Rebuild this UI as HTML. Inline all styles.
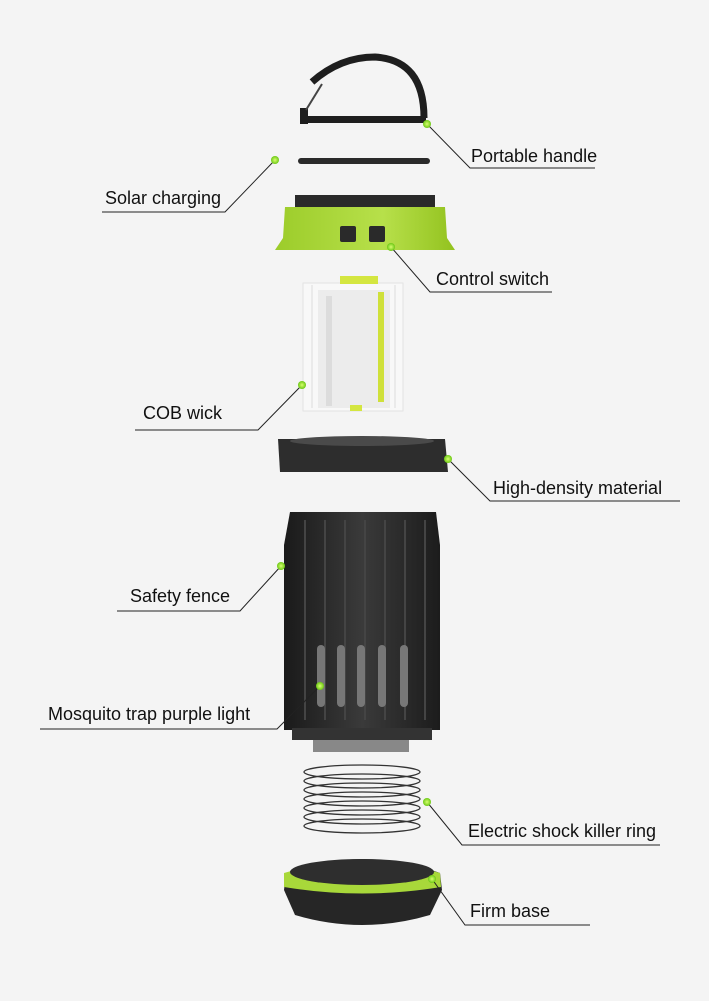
<!DOCTYPE html>
<html><head><meta charset="utf-8"><style>
html,body{margin:0;padding:0;background:#f4f4f4;}
svg{display:block}
text{font-family:"Liberation Sans",sans-serif;font-size:18px;fill:#111}
</style></head><body>
<svg width="709" height="1001" viewBox="0 0 709 1001">
<defs>
<linearGradient id="blk" x1="0" x2="1"><stop offset="0" stop-color="#1a1a1a"/><stop offset="0.5" stop-color="#3a3a3a"/><stop offset="1" stop-color="#1c1c1c"/></linearGradient>
<linearGradient id="grn" x1="0" x2="1"><stop offset="0" stop-color="#9ccc2a"/><stop offset="0.6" stop-color="#b7e04a"/><stop offset="1" stop-color="#93c21f"/></linearGradient>
<radialGradient id="dot"><stop offset="0" stop-color="#d8ff70"/><stop offset="1" stop-color="#6cc814"/></radialGradient>
</defs>
<rect width="709" height="1001" fill="#f4f4f4"/>
<!-- handle -->
<path d="M312 82 Q340 57 375 57 Q424 60 424 118" fill="none" stroke="#1e1e1e" stroke-width="7"/>
<rect x="300" y="116" width="126" height="7" fill="#1e1e1e"/>
<rect x="300" y="108" width="8" height="16" fill="#1e1e1e"/>
<line x1="306" y1="110" x2="322" y2="84" stroke="#444" stroke-width="2"/>
<!-- solar panel -->
<rect x="298" y="158" width="132" height="6" rx="3" fill="#2a2a2a"/>
<!-- top green cap -->
<rect x="295" y="195" width="140" height="14" fill="#2a2a2a"/>
<path d="M285 207 L445 207 L447 238 L455 250 L275 250 L283 238 Z" fill="url(#grn)"/>
<rect x="340" y="226" width="16" height="16" rx="2" fill="#2a2a2a"/>
<rect x="369" y="226" width="16" height="16" rx="2" fill="#2a2a2a"/>
<!-- COB wick -->
<rect x="303" y="283" width="100" height="128" fill="#f8f8f8" stroke="#e2e2e2"/>
<g stroke="#e6e6e6" stroke-width="1.5"><line x1="312" y1="285" x2="312" y2="408"/><line x1="395" y1="285" x2="395" y2="408"/></g>
<rect x="318" y="290" width="72" height="118" fill="#ececec"/>
<rect x="340" y="276" width="38" height="8" fill="#d4e640"/>
<rect x="378" y="292" width="6" height="110" fill="#cfe03a"/>
<rect x="326" y="296" width="6" height="110" fill="#dcdcdc"/>
<rect x="350" y="405" width="12" height="6" fill="#d4e640"/>
<!-- high density ring -->
<path d="M278 439 L445 439 L448 472 L280 472 Z" fill="#2d2d2d"/>
<ellipse cx="362" cy="441" rx="72" ry="5" fill="#4a4a4a"/>
<!-- safety fence -->
<path d="M290 512 L436 512 L440 545 L440 730 L284 730 L284 545 Z" fill="url(#blk)"/>
<g stroke="#444" stroke-width="2">
<line x1="305" y1="520" x2="305" y2="720"/><line x1="325" y1="520" x2="325" y2="720"/><line x1="345" y1="520" x2="345" y2="720"/><line x1="365" y1="520" x2="365" y2="720"/><line x1="385" y1="520" x2="385" y2="720"/><line x1="405" y1="520" x2="405" y2="720"/><line x1="425" y1="520" x2="425" y2="720"/>
</g>
<g fill="#777"><rect x="317" y="645" width="8" height="62" rx="4"/><rect x="337" y="645" width="8" height="62" rx="4"/><rect x="357" y="645" width="8" height="62" rx="4"/><rect x="378" y="645" width="8" height="62" rx="4"/><rect x="400" y="645" width="8" height="62" rx="4"/></g>
<rect x="292" y="728" width="140" height="12" fill="#333"/>
<rect x="313" y="740" width="96" height="12" fill="#888"/>
<!-- spring -->
<g fill="none" stroke="#333" stroke-width="1.3">
<ellipse cx="362" cy="772" rx="58" ry="7"/><ellipse cx="362" cy="781" rx="58" ry="7"/><ellipse cx="362" cy="790" rx="58" ry="7"/><ellipse cx="362" cy="799" rx="58" ry="7"/><ellipse cx="362" cy="808" rx="58" ry="7"/><ellipse cx="362" cy="817" rx="58" ry="7"/><ellipse cx="362" cy="826" rx="58" ry="7"/>
</g>
<!-- base -->
<path d="M286 873 Q362 845 440 873 L442 890 L430 915 Q362 935 295 915 L284 890 Z" fill="#262626"/>
<path d="M284 873 Q362 850 440 873 L441 887 Q362 900 284 887 Z" fill="#a8d83a"/>
<ellipse cx="362" cy="872" rx="72" ry="13" fill="#2e2e2e"/>
<!-- connectors -->
<g stroke="#222" stroke-width="1" fill="none">
<polyline points="427,124 470,168 595,168"/>
<polyline points="275,160 225,212 102,212"/>
<polyline points="391,247 430,292 552,292"/>
<polyline points="302,385 258,430 135,430"/>
<polyline points="448,459 490,501 680,501"/>
<polyline points="281,566 240,611 117,611"/>
<polyline points="320,686 277,729 40,729"/>
<polyline points="427,802 462,845 660,845"/>
<polyline points="432,879 465,925 590,925"/>
</g>
<g fill="url(#dot)">
<circle cx="427" cy="124" r="4"/><circle cx="275" cy="160" r="4"/><circle cx="391" cy="247" r="4"/><circle cx="302" cy="385" r="4"/><circle cx="448" cy="459" r="4"/><circle cx="281" cy="566" r="4"/><circle cx="320" cy="686" r="4"/><circle cx="427" cy="802" r="4"/><circle cx="432" cy="879" r="4"/>
</g>
<text x="471" y="162">Portable handle</text>
<text x="105" y="204">Solar charging</text>
<text x="436" y="285">Control switch</text>
<text x="143" y="419">COB wick</text>
<text x="493" y="494">High-density material</text>
<text x="130" y="602">Safety fence</text>
<text x="48" y="720">Mosquito trap purple light</text>
<text x="468" y="837">Electric shock killer ring</text>
<text x="470" y="917">Firm base</text>
</svg>
</body></html>
